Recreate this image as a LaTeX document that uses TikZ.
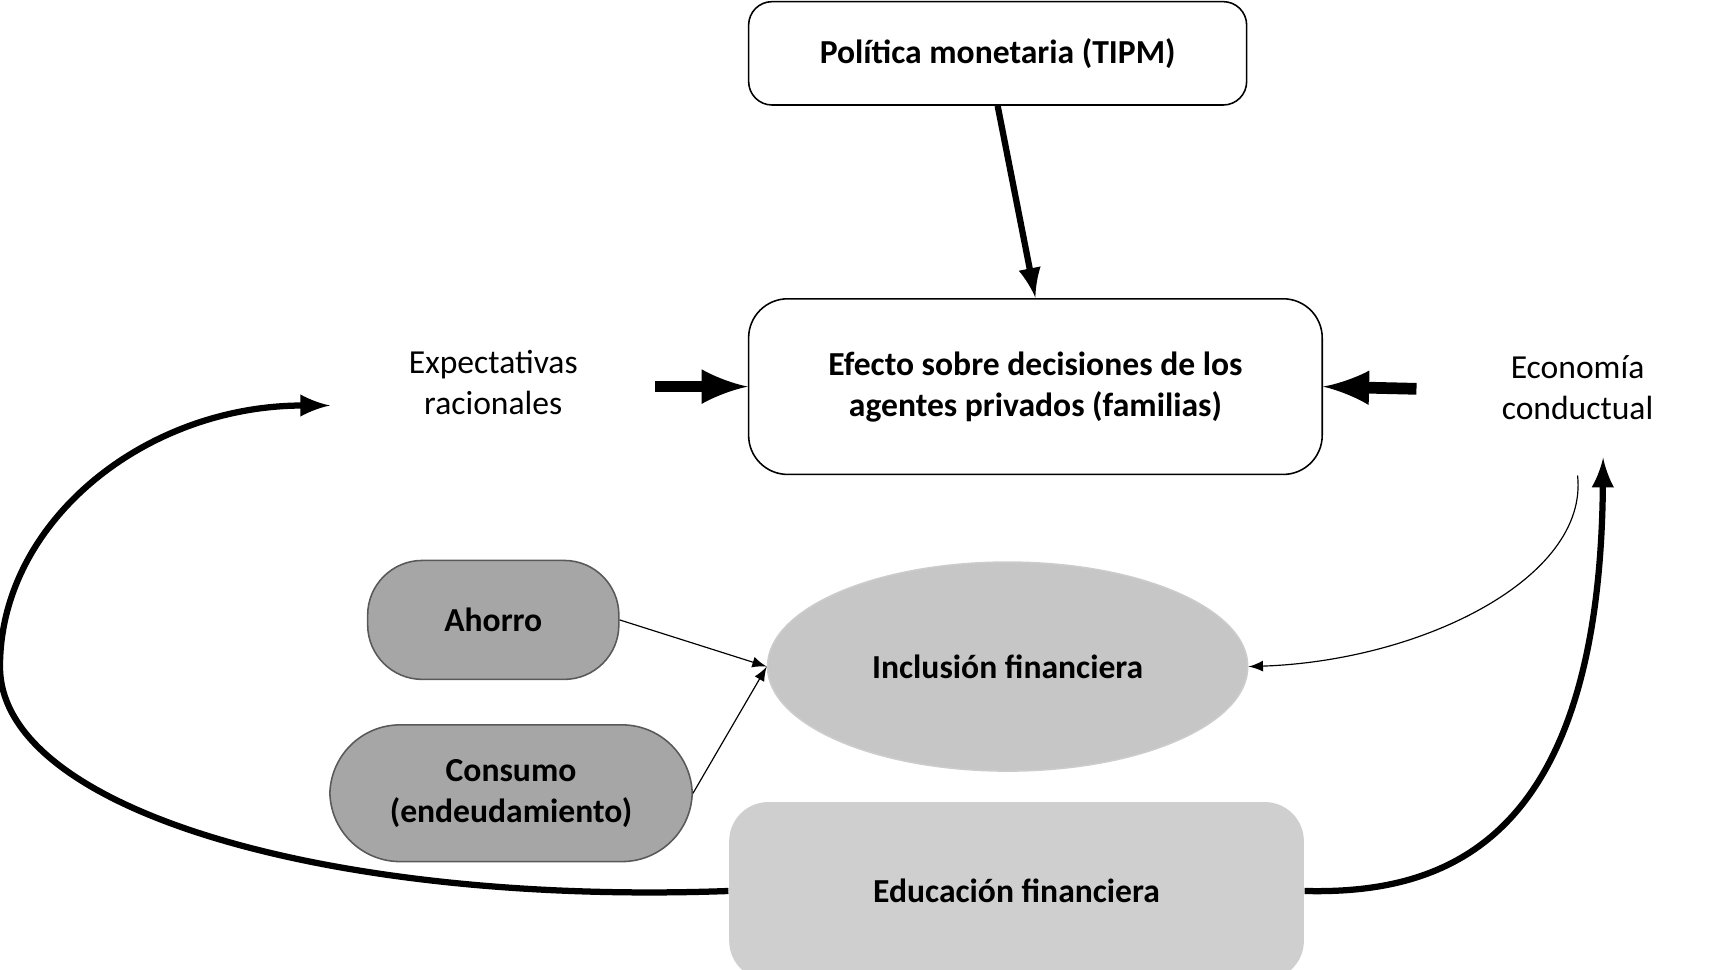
\documentclass[tikz,border=0pt]{standalone}
\usepackage{fontspec}
\setmainfont{Carlito}
\usetikzlibrary{shapes.geometric}
\begin{document}
\begin{tikzpicture}[x=0.01cm,y=-0.01cm,font=\fontsize{8.6}{10.5}\selectfont,
    box/.style={draw,rounded corners=6pt,align=center,inner sep=0pt,font=\fontsize{8.6}{10.5}\selectfont\bfseries},
    pill/.style={draw=gray!70!black,rounded corners=14pt,fill=gray!70,align=center,inner sep=0pt,font=\fontsize{8.6}{10.5}\selectfont\bfseries},
    thick arrow/.style={-latex,line width=1.6pt},
    thin arrow/.style={-latex,line width=0.3pt}]
    % Frame
    \useasboundingbox (0,0) rectangle (1550,873);

    % Boxes
    \node[box,minimum width=4.48cm,minimum height=0.93cm] (tipm) at (898,48) {Política monetaria (TIPM)};
    \node[box,minimum width=5.16cm,minimum height=1.58cm,rounded corners=10pt] (efecto) at (932,348)
        {Efecto sobre decisiones de los\\agentes privados (familias)};
    \node[align=center] (expect) at (444,344) {Expectativas\\racionales};
    \node[align=center] (conduct) at (1420,349) {Economía\\conductual};

    % Gray shapes
    \node[pill,minimum width=2.26cm,minimum height=1.07cm] (ahorro) at (444,558) {Ahorro};
    \node[pill,minimum width=3.26cm,minimum height=1.23cm,rounded corners=18pt] (consumo) at (460,714) {Consumo\\(endeudamiento)};
    \node[ellipse,draw=gray!40,fill=gray!45,minimum width=4.32cm,minimum height=1.88cm,inner sep=0pt,
        font=\fontsize{8.6}{10.5}\selectfont\bfseries] (inclusion) at (907,600) {Inclusión financiera};
    \node[box,draw=none,fill=gray!38,minimum width=5.17cm,minimum height=1.6cm,rounded corners=10pt] (educ) at (915,802)
        {Educación financiera};

    % Arrows
    \draw[thick arrow] (tipm.south) -- (932,268);
    \draw[-latex,line width=3pt] (590,348) -- (efecto.west);
    \draw[-latex,line width=3pt] (1275,350) -- (efecto.east);
    \draw[thin arrow] (ahorro.east) -- (inclusion.west);
    \draw[thin arrow] (consumo.east) -- (inclusion.west);
    \draw[thin arrow] (1420,428) .. controls (1430,520) and (1280,595) .. (inclusion.east);
    \draw[thick arrow] (educ.east) .. controls (1300,805) and (1440,760) .. (1443,412);
    \draw[thick arrow] (educ.west) .. controls (300,815) and (0,730) .. (0,600)
        .. controls (0,470) and (130,365) .. (297,365);
\end{tikzpicture}
\end{document}
